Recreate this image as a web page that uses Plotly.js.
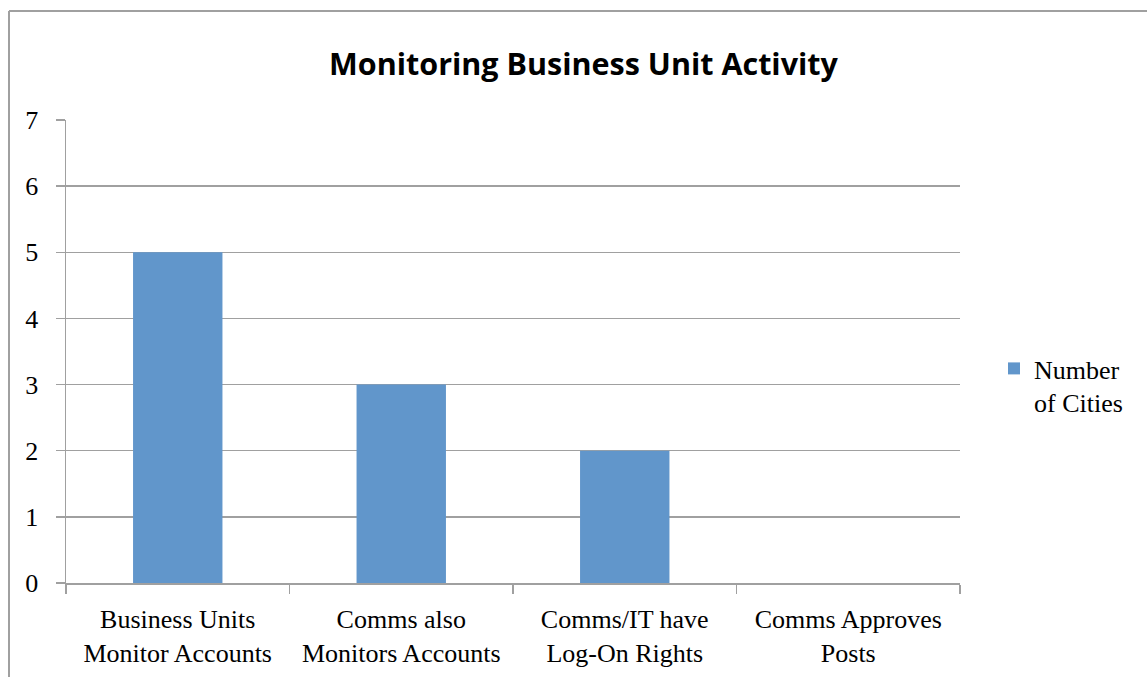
<!DOCTYPE html>
<html><head><meta charset="utf-8">
<script src="https://cdn.plot.ly/plotly-3.0.1.min.js"></script>
<style>html,body{margin:0;padding:0;background:#fff}#chart{width:1147px;height:677px}</style>
</head><body><div id="chart"></div>
<script>
const categories = ["Business Units<br>Monitor Accounts", "Comms also<br>Monitors Accounts", "Comms/IT have<br>Log-On Rights", "Comms Approves<br>Posts"];
const numberOfCities = [5, 3, 2, 0];
const seriesName = "Number<br>of Cities";
const yTicks = [0, 1, 2, 3, 4, 5, 6, 7];

const W = 1147, H = 677;
const M = {l: 66, r: 187, t: 120, b: 94};
const pw = W - M.l - M.r, ph = H - M.t - M.b;
const px2x = p => (p - M.l) / pw;
const py2y = p => (H - M.b - p) / ph;
const serif = "Liberation Serif, serif";

const data = [{
  type: "bar", x: categories, y: numberOfCities, name: seriesName,
  marker: {color: "#6196cb", line: {width: 0}}
}];
const layout = {
  width: W, height: H, margin: M,
  paper_bgcolor: "#fff", plot_bgcolor: "#fff",
  title: {text: "<b>Monitoring Business Unit Activity</b>", font: {family: "Open Sans, sans-serif", size: 30.5, color: "#000"},
          x: 583.5 / W, xanchor: "center", y: 1 - 64/H, yanchor: "middle", xref: "container", yref: "container"},
  bargap: 0.6,
  showlegend: true,
  legend: {x: px2x(994), xanchor: "left", y: py2y(345), yanchor: "top", font: {family: serif, size: 26, color: "#000"},
           valign: "top", bgcolor: "rgba(0,0,0,0)", itemwidth: 30},
  xaxis: {type: "category", tickson: "boundaries", ticks: "outside", ticklen: 9, tickcolor: "#a0a0a0", tickwidth: 1.5,
          showline: true, linecolor: "#a0a0a0", linewidth: 1.5, showgrid: false, zeroline: false, ticklabelstandoff: 12,
          tickfont: {family: serif, size: 26, color: "#000"}, fixedrange: true},
  yaxis: {range: [0, 7], tickvals: yTicks, ticktext: yTicks.map(String), ticks: "outside", ticklen: 9, tickcolor: "#a0a0a0", tickwidth: 1.5,
          showline: true, linecolor: "#a0a0a0", linewidth: 1.5, showgrid: true, gridcolor: "#a0a0a0", gridwidth: 1.5,
          zeroline: false, ticklabelstandoff: 12, tickfont: {family: serif, size: 26, color: "#000"}, fixedrange: true},
  shapes: [
    {type: "line", xref: "paper", yref: "paper", x0: px2x(9), x1: px2x(W + 5), y0: py2y(11), y1: py2y(11), line: {color: "#a0a0a0", width: 2}},
    {type: "line", xref: "paper", yref: "paper", x0: px2x(9), x1: px2x(9), y0: py2y(11), y1: py2y(H + 5), line: {color: "#a0a0a0", width: 2}}
  ]
};
Plotly.newPlot("chart", data, layout, {displayModeBar: false, staticPlot: true});
</script></body></html>
